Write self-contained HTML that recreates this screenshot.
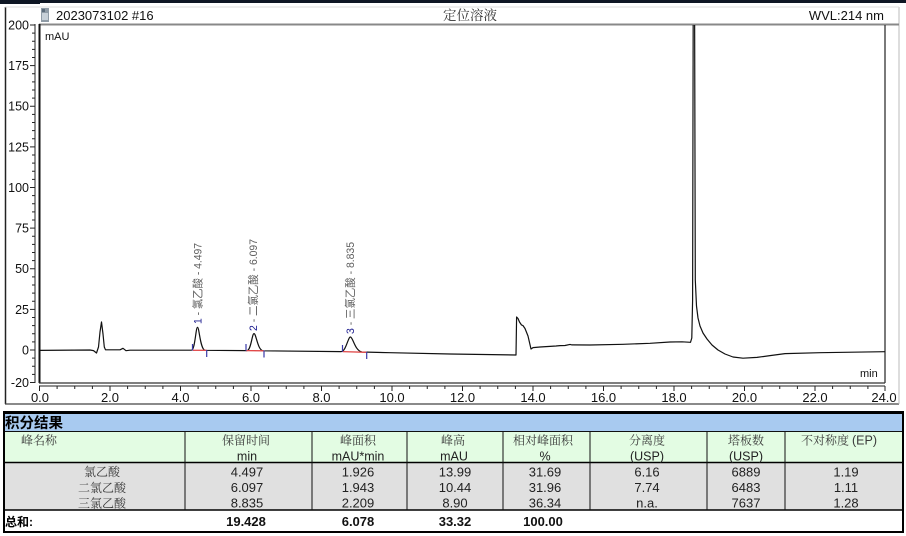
<!DOCTYPE html>
<html><head><meta charset="utf-8"><style>
html,body{margin:0;padding:0;background:#fff;}
svg{display:block;}
text{font-family:"Liberation Sans","Noto Sans CJK SC",sans-serif;}
.cj{font-family:"Liberation Serif","Noto Serif CJK SC",serif;}
.sn{font-family:"Liberation Sans","Noto Sans CJK SC",sans-serif;}
</style></head><body>
<svg width="906" height="536" viewBox="0 0 906 536" xmlns="http://www.w3.org/2000/svg">
<rect x="0" y="0" width="906" height="536" fill="#fff"/>
<rect x="0" y="0" width="906" height="3" fill="#0e1624"/>
<rect x="0" y="0" width="40" height="4" fill="#0e1624"/>
<line x1="5.5" y1="7" x2="5.5" y2="404" stroke="#222" stroke-width="1.5"/>
<line x1="5" y1="404" x2="899" y2="404" stroke="#444" stroke-width="1.2"/>
<line x1="899" y1="7" x2="899" y2="404" stroke="#bbb" stroke-width="1"/>
<line x1="5" y1="7" x2="899" y2="7" stroke="#ddd" stroke-width="1"/>
<rect x="41" y="8" width="8" height="14" fill="#8f9ba6"/>
<rect x="42" y="13" width="6" height="7" fill="#c7d0d8"/>
<rect x="42" y="9" width="3" height="3" fill="#5d6d7c"/>
<text x="56" y="20" font-size="13" fill="#111">2023073102 #16</text>
<text x="470" y="20" font-size="13.5" fill="#333" text-anchor="middle" class="cj">定位溶液</text>
<text x="884" y="20" font-size="13" fill="#111" text-anchor="end">WVL:214 nm</text>
<line x1="39" y1="24.5" x2="899" y2="24.5" stroke="#888" stroke-width="2"/>
<line x1="39.5" y1="24" x2="39.5" y2="383" stroke="#111" stroke-width="2"/>
<line x1="885" y1="25" x2="885" y2="383" stroke="#222" stroke-width="1.2"/>
<line x1="39" y1="383" x2="885" y2="383" stroke="#333" stroke-width="1.2"/>
<text x="45" y="40" font-size="11" fill="#111">mAU</text>
<text x="860" y="377" font-size="11" fill="#111">min</text>
<line x1="35" y1="24" x2="35" y2="383" stroke="#222" stroke-width="1"/>
<g stroke="#222" stroke-width="1">
<line x1="30" y1="25" x2="35" y2="25"/><line x1="30" y1="65.6" x2="35" y2="65.6"/><line x1="30" y1="106.25" x2="35" y2="106.25"/><line x1="30" y1="146.9" x2="35" y2="146.9"/><line x1="30" y1="187.5" x2="35" y2="187.5"/><line x1="30" y1="228.1" x2="35" y2="228.1"/><line x1="30" y1="268.75" x2="35" y2="268.75"/><line x1="30" y1="309.4" x2="35" y2="309.4"/><line x1="30" y1="350" x2="35" y2="350"/><line x1="30" y1="382.5" x2="35" y2="382.5"/>
<line x1="32" y1="33.1" x2="35" y2="33.1"/><line x1="32" y1="41.25" x2="35" y2="41.25"/><line x1="32" y1="49.4" x2="35" y2="49.4"/><line x1="32" y1="57.5" x2="35" y2="57.5"/>
<line x1="32" y1="73.75" x2="35" y2="73.75"/><line x1="32" y1="81.9" x2="35" y2="81.9"/><line x1="32" y1="90" x2="35" y2="90"/><line x1="32" y1="98.1" x2="35" y2="98.1"/>
<line x1="32" y1="114.4" x2="35" y2="114.4"/><line x1="32" y1="122.5" x2="35" y2="122.5"/><line x1="32" y1="130.6" x2="35" y2="130.6"/><line x1="32" y1="138.75" x2="35" y2="138.75"/>
<line x1="32" y1="155" x2="35" y2="155"/><line x1="32" y1="163.1" x2="35" y2="163.1"/><line x1="32" y1="171.25" x2="35" y2="171.25"/><line x1="32" y1="179.4" x2="35" y2="179.4"/>
<line x1="32" y1="195.6" x2="35" y2="195.6"/><line x1="32" y1="203.75" x2="35" y2="203.75"/><line x1="32" y1="211.9" x2="35" y2="211.9"/><line x1="32" y1="220" x2="35" y2="220"/>
<line x1="32" y1="236.25" x2="35" y2="236.25"/><line x1="32" y1="244.4" x2="35" y2="244.4"/><line x1="32" y1="252.5" x2="35" y2="252.5"/><line x1="32" y1="260.6" x2="35" y2="260.6"/>
<line x1="32" y1="276.9" x2="35" y2="276.9"/><line x1="32" y1="285" x2="35" y2="285"/><line x1="32" y1="293.1" x2="35" y2="293.1"/><line x1="32" y1="301.25" x2="35" y2="301.25"/>
<line x1="32" y1="317.5" x2="35" y2="317.5"/><line x1="32" y1="325.6" x2="35" y2="325.6"/><line x1="32" y1="333.75" x2="35" y2="333.75"/><line x1="32" y1="341.9" x2="35" y2="341.9"/>
<line x1="32" y1="358.1" x2="35" y2="358.1"/><line x1="32" y1="366.25" x2="35" y2="366.25"/><line x1="32" y1="374.4" x2="35" y2="374.4"/>
</g>
<g font-size="12.5" fill="#111" text-anchor="end">
<text x="29" y="29.5">200</text><text x="29" y="70">175</text><text x="29" y="110.7">150</text><text x="29" y="151.4">125</text><text x="29" y="192">100</text><text x="29" y="232.6">75</text><text x="29" y="273.2">50</text><text x="29" y="313.9">25</text><text x="29" y="354.5">0</text><text x="29" y="387">-20</text>
</g>
<line x1="39" y1="386" x2="885" y2="386" stroke="#222" stroke-width="1"/>
<g stroke="#222" stroke-width="1">
<line x1="39.5" y1="386" x2="39.5" y2="391"/><line x1="110" y1="386" x2="110" y2="391"/><line x1="180.5" y1="386" x2="180.5" y2="391"/><line x1="251" y1="386" x2="251" y2="391"/><line x1="321.5" y1="386" x2="321.5" y2="391"/><line x1="392" y1="386" x2="392" y2="391"/><line x1="462.5" y1="386" x2="462.5" y2="391"/><line x1="533" y1="386" x2="533" y2="391"/><line x1="603.5" y1="386" x2="603.5" y2="391"/><line x1="674" y1="386" x2="674" y2="391"/><line x1="744.5" y1="386" x2="744.5" y2="391"/><line x1="815" y1="386" x2="815" y2="391"/><line x1="885" y1="386" x2="885" y2="391"/>
<line x1="57.1" y1="386" x2="57.1" y2="389"/><line x1="74.75" y1="386" x2="74.75" y2="389"/><line x1="92.4" y1="386" x2="92.4" y2="389"/>
<line x1="127.6" y1="386" x2="127.6" y2="389"/><line x1="145.25" y1="386" x2="145.25" y2="389"/><line x1="162.9" y1="386" x2="162.9" y2="389"/>
<line x1="198.1" y1="386" x2="198.1" y2="389"/><line x1="215.75" y1="386" x2="215.75" y2="389"/><line x1="233.4" y1="386" x2="233.4" y2="389"/>
<line x1="268.6" y1="386" x2="268.6" y2="389"/><line x1="286.25" y1="386" x2="286.25" y2="389"/><line x1="303.9" y1="386" x2="303.9" y2="389"/>
<line x1="339.1" y1="386" x2="339.1" y2="389"/><line x1="356.75" y1="386" x2="356.75" y2="389"/><line x1="374.4" y1="386" x2="374.4" y2="389"/>
<line x1="409.6" y1="386" x2="409.6" y2="389"/><line x1="427.25" y1="386" x2="427.25" y2="389"/><line x1="444.9" y1="386" x2="444.9" y2="389"/>
<line x1="480.1" y1="386" x2="480.1" y2="389"/><line x1="497.75" y1="386" x2="497.75" y2="389"/><line x1="515.4" y1="386" x2="515.4" y2="389"/>
<line x1="550.6" y1="386" x2="550.6" y2="389"/><line x1="568.25" y1="386" x2="568.25" y2="389"/><line x1="585.9" y1="386" x2="585.9" y2="389"/>
<line x1="621.1" y1="386" x2="621.1" y2="389"/><line x1="638.75" y1="386" x2="638.75" y2="389"/><line x1="656.4" y1="386" x2="656.4" y2="389"/>
<line x1="691.6" y1="386" x2="691.6" y2="389"/><line x1="709.25" y1="386" x2="709.25" y2="389"/><line x1="726.9" y1="386" x2="726.9" y2="389"/>
<line x1="762.1" y1="386" x2="762.1" y2="389"/><line x1="779.75" y1="386" x2="779.75" y2="389"/><line x1="797.4" y1="386" x2="797.4" y2="389"/>
<line x1="832.6" y1="386" x2="832.6" y2="389"/><line x1="850.25" y1="386" x2="850.25" y2="389"/><line x1="867.9" y1="386" x2="867.9" y2="389"/>
</g>
<g font-size="13" fill="#111" text-anchor="middle">
<text x="40" y="402">0.0</text><text x="110" y="402">2.0</text><text x="180.5" y="402">4.0</text><text x="251" y="402">6.0</text><text x="321.5" y="402">8.0</text><text x="392" y="402">10.0</text><text x="462.5" y="402">12.0</text><text x="533" y="402">14.0</text><text x="603.5" y="402">16.0</text><text x="674" y="402">18.0</text><text x="744.5" y="402">20.0</text><text x="815" y="402">22.0</text><text x="884" y="402">24.0</text>
</g>
<defs><clipPath id="pc"><rect x="40" y="25" width="845" height="358"/></clipPath></defs>
<g clip-path="url(#pc)">
<path fill="none" stroke="#111" stroke-width="1.2" stroke-linejoin="round" d="M39,350.4 L90,350 L93.5,350.6 L96.5,353 L98.5,347 L100,332 L101.5,322 L103,334 L104.3,347 L105.5,349.8 L120,349.8 L123,348.3 L126,350.7 L130,350.2 L191.5,350.2 C195,350.2 195.8,327.3 197.5,327.3 C199.3,327.3 200.2,349.5 205,350.3 L247,350.6 C251,350.6 252,333.6 254,333.6 C256.2,333.6 257.5,349.8 263,350.8 L341,351.6 C346,351.6 348,337 350.4,337 C353,337 354.8,350.8 362,352 L390,352.7 L450,354 L516,355 L516.6,317 L518,318.5 L519.5,322 L521.5,325 L523,325.6 L525,328.5 L528,336 L531,349 L533,347.6 L540,347 L556,346 L560,345.6 L565,345.5 L570,344.4 L572,344.9 L590,345 L623,344.3 L650,343.3 L670,342 L682,341.8 L690.5,342.3 L691.8,338 L692.6,300 L693.2,10 L694.6,10 L695.3,280 L696.5,306 L698,318 L700,326 L703,333 L707,339 L712,345 L718,350 L725,354 L733,357 L743,358.2 L757,357.4 L770,355.6 L785,353.6 L820,352.7 L885,351.7"/>
</g>
<g stroke="#e04848" stroke-width="1.3">
<line x1="192.5" y1="350.3" x2="206.7" y2="350.3"/>
<line x1="246" y1="350.6" x2="264" y2="350.8"/>
<line x1="342.5" y1="351.6" x2="366.7" y2="352.3"/>
</g>
<g stroke="#3a3aa8" stroke-width="1.2">
<line x1="192.5" y1="344" x2="192.5" y2="350.5"/><line x1="206.7" y1="350" x2="206.7" y2="357"/>
<line x1="246" y1="344" x2="246" y2="350.8"/><line x1="264" y1="350.5" x2="264" y2="357.5"/>
<line x1="342.5" y1="345" x2="342.5" y2="351.8"/><line x1="366.7" y1="352" x2="366.7" y2="359"/>
</g>
<g font-size="11" fill="#5e5e5e">
<text transform="translate(201.5,324) rotate(-90)" textLength="81" lengthAdjust="spacingAndGlyphs"><tspan fill="#202090">1</tspan> - 氯乙酸 - 4.497</text>
<text transform="translate(257.2,331) rotate(-90)" textLength="92" lengthAdjust="spacingAndGlyphs"><tspan fill="#202090">2</tspan> - 二氯乙酸 - 6.097</text>
<text transform="translate(354,334) rotate(-90)" textLength="92" lengthAdjust="spacingAndGlyphs"><tspan fill="#202090">3</tspan> - 三氯乙酸 - 8.835</text>
</g>
<rect x="3" y="414" width="901" height="17" fill="#a8caf0"/>
<rect x="3" y="432" width="901" height="30" fill="#e3fce3"/>
<rect x="3" y="463" width="901" height="47" fill="#e0e0e0"/>
<rect x="3" y="510" width="901" height="22" fill="#fff"/>
<rect x="3" y="411" width="901" height="3" fill="#000"/>
<line x1="3" y1="431.5" x2="904" y2="431.5" stroke="#111" stroke-width="1"/>
<line x1="3" y1="462.5" x2="904" y2="462.5" stroke="#000" stroke-width="1.5"/>
<line x1="3" y1="510" x2="904" y2="510" stroke="#000" stroke-width="1.6"/>
<line x1="3" y1="532" x2="904" y2="532" stroke="#000" stroke-width="2"/>
<line x1="4" y1="411" x2="4" y2="533" stroke="#000" stroke-width="2"/>
<line x1="903" y1="411" x2="903" y2="533" stroke="#000" stroke-width="2"/>
<g stroke="#111" stroke-width="1">
<line x1="185" y1="432" x2="185" y2="510"/><line x1="312" y1="432" x2="312" y2="510"/><line x1="407" y1="432" x2="407" y2="510"/><line x1="503" y1="432" x2="503" y2="510"/><line x1="590" y1="432" x2="590" y2="510"/><line x1="707" y1="432" x2="707" y2="510"/><line x1="785" y1="432" x2="785" y2="510"/>
</g>
<text x="5" y="428" font-size="14.5" font-weight="bold" fill="#000">积分结果</text>
<g font-size="12" fill="#3a3a3a" text-anchor="middle">
<text x="39" y="444.5" class="cj">峰名称</text>
<text x="246" y="444.5" class="cj">保留时间</text>
<text x="358" y="444.5" class="cj">峰面积</text>
<text x="453" y="444.5" class="cj">峰高</text>
<text x="543" y="444.5" class="cj">相对峰面积</text>
<text x="647" y="444.5" class="cj">分离度</text>
<text x="746" y="444.5" class="cj">塔板数</text>
<text x="839" y="444.5" class="cj">不对称度 <tspan class="sn" font-size="12.5">(EP)</tspan></text>
</g>
<g font-size="12.5" fill="#222" text-anchor="middle">
<text x="247" y="460.5">min</text>
<text x="358" y="460.5">mAU*min</text>
<text x="454" y="460.5">mAU</text>
<text x="545" y="460.5">%</text>
<text x="647" y="460.5">(USP)</text>
<text x="746" y="460.5">(USP)</text>
</g>
<g font-size="12" fill="#3a3a3a" text-anchor="middle">
<text x="102" y="476" class="cj">氯乙酸</text>
<text x="102" y="492" class="cj">二氯乙酸</text>
<text x="102" y="507.5" class="cj">三氯乙酸</text>
</g>
<g font-size="13" fill="#222" text-anchor="middle">
<text x="247" y="476.5">4.497</text><text x="358" y="476.5">1.926</text><text x="455" y="476.5">13.99</text><text x="545" y="476.5">31.69</text><text x="647" y="476.5">6.16</text><text x="746" y="476.5">6889</text><text x="846" y="476.5">1.19</text>
<text x="247" y="492">6.097</text><text x="358" y="492">1.943</text><text x="455" y="492">10.44</text><text x="545" y="492">31.96</text><text x="647" y="492">7.74</text><text x="746" y="492">6483</text><text x="846" y="492">1.11</text>
<text x="247" y="507.5">8.835</text><text x="358" y="507.5">2.209</text><text x="455" y="507.5">8.90</text><text x="545" y="507.5">36.34</text><text x="647" y="507.5">n.a.</text><text x="746" y="507.5">7637</text><text x="846" y="507.5">1.28</text>
</g>
<text x="5" y="526" font-size="12" font-weight="bold" fill="#000">总和:</text>
<g font-size="13" font-weight="bold" fill="#111" text-anchor="middle">
<text x="246" y="526">19.428</text><text x="358" y="526">6.078</text><text x="455" y="526">33.32</text><text x="543" y="526">100.00</text>
</g>
</svg>
</body></html>
